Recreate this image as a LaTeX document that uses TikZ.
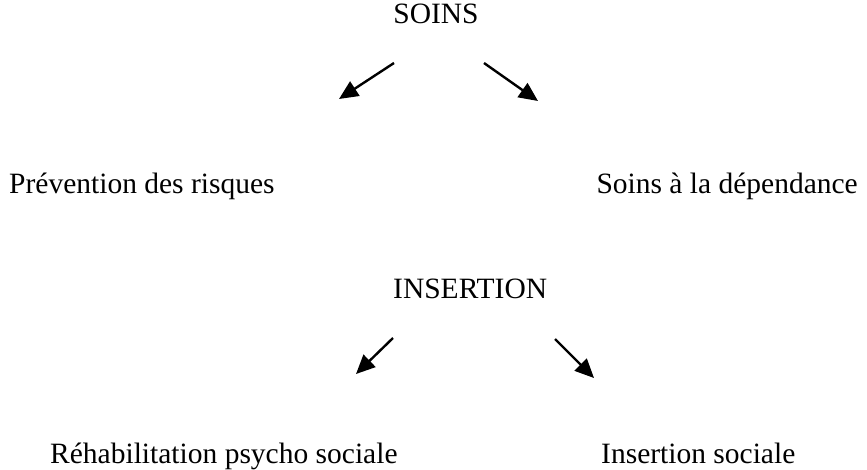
\documentclass[tikz,border=0pt]{standalone}
\usepackage{fontspec}
\setmainfont{Liberation Serif}
\usetikzlibrary{arrows.meta}
\begin{document}
\begin{tikzpicture}[x=1pt,y=-1pt,
  lbl/.style={inner sep=0pt,font=\fontsize{29.5}{32}\selectfont},
  arr/.style={line width=2.4pt,-{Triangle[length=19pt,width=17pt]}}]
\useasboundingbox (0,0) rectangle (867,469);
\node[lbl,anchor=base] (soins) at (436,23) {SOINS};
\node[lbl,anchor=base west] (prev) at (9,193) {Prévention des risques};
\node[lbl,anchor=base east] (dep) at (858,193) {Soins à la dépendance};
\node[lbl,anchor=base west] (ins) at (393,298) {INSERTION};
\node[lbl,anchor=base west] (reh) at (50,463) {Réhabilitation psycho sociale};
\node[lbl,anchor=base west] (soc) at (601,463) {Insertion sociale};
\coordinate (a1s) at (394,63); \coordinate (a1e) at (339,99);
\coordinate (a2s) at (484,63); \coordinate (a2e) at (538,101);
\coordinate (a3s) at (393,338); \coordinate (a3e) at (356,374);
\coordinate (a4s) at (555,339); \coordinate (a4e) at (594,378);
\draw[arr] (a1s) -- (a1e);
\draw[arr] (a2s) -- (a2e);
\draw[arr] (a3s) -- (a3e);
\draw[arr] (a4s) -- (a4e);
\end{tikzpicture}
\end{document}
